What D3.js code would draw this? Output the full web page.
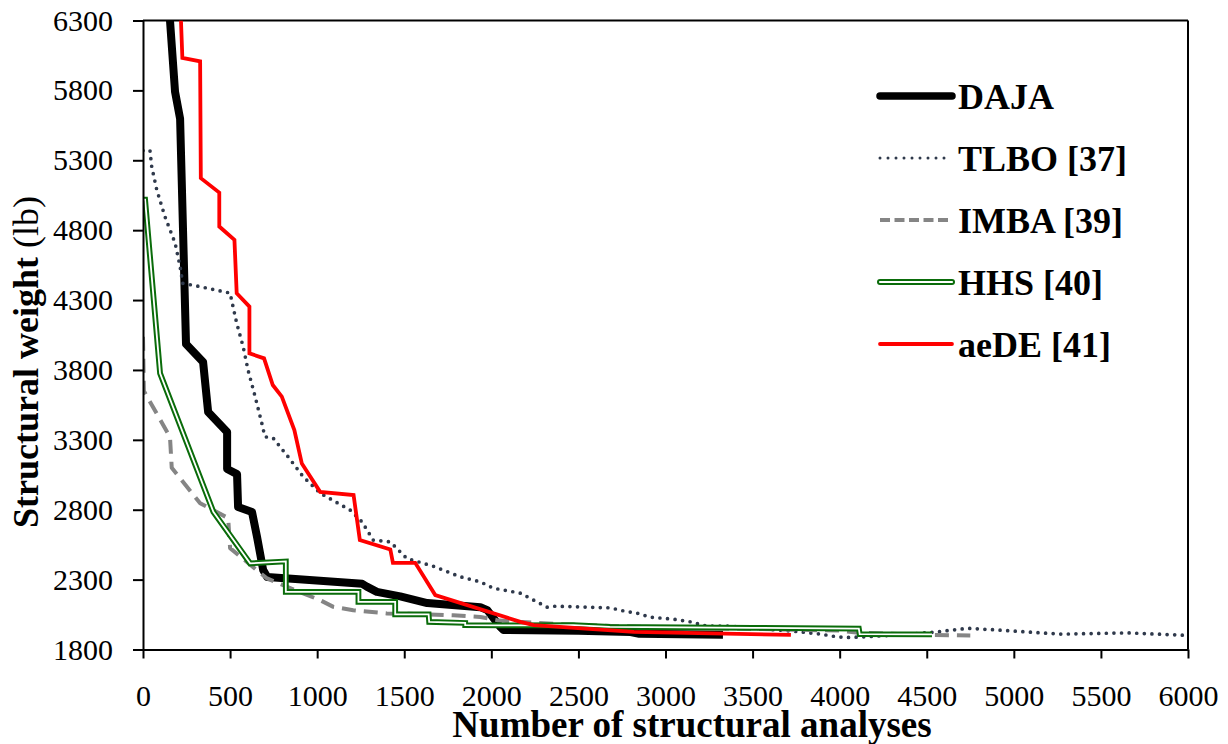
<!DOCTYPE html>
<html>
<head>
<meta charset="utf-8">
<script src="https://cdn.jsdelivr.net/npm/d3@7/dist/d3.min.js"></script>
<style>
  html, body { margin: 0; padding: 0; background: #fff; }
  svg { display: block; }
  text { font-family: "Liberation Serif", "Tinos", "Times New Roman", "Nimbus Roman", "DejaVu Serif", "Noto Serif", serif; fill: #000; }
</style>
</head>
<body>
<svg id="chart" width="1228" height="744"></svg>
<script>
// Convergence histories: [number of structural analyses, structural weight (lb)]
const dajaData = [
  [155,6300],[184,5790],[213,5597],[247,3985],[345,3857],[374,3499],[483,3356],[483,3091],
  [540,3055],[546,2819],[626,2783],[655,2604],[690,2368],[713,2318],[1259,2270],[1285,2250],
  [1343,2212],[1477,2180],[1632,2132],[1937,2103],[1977,2082],[2052,1960],[2070,1940],
  [2500,1935],[2800,1925],[2850,1912],[3330,1905]
];
const tlboData = [
  [0,5370],[40,5370],[50,5255],[79,5089],[126,4897],[184,4709],[213,4540],[228,4420],
  [328,4396],[500,4350],[517,4253],[538,4135],[575,3967],[603,3800],[644,3609],[682,3420],
  [700,3322],[747,3313],[833,3179],[920,3036],[1017,2919],[1190,2797],[1257,2714],[1322,2583],
  [1420,2570],[1515,2451],[1667,2396],[1822,2320],[1937,2284],[2011,2239],[2167,2203],
  [2262,2141],[2320,2103],[2368,2110],[2548,2103],[2684,2098],[2759,2076],[2837,2060],
  [2914,2031],[3046,2017],[3143,1998],[3240,1967],[3355,1967],[3470,1957],[3776,1926],
  [3891,1910],[3987,1890],[4063,1886],[4350,1905],[4561,1926],[4734,1952],[4925,1938],
  [5270,1910],[5653,1919],[5977,1902],[6000,1900]
];
const imbaData = [
  [0,4038],[5,3650],[155,3320],[165,3100],[328,2847],[489,2740],[500,2525],[653,2368],
  [709,2311],[845,2239],[1017,2153],[1093,2105],[1207,2081],[1400,2058],[1592,2053],
  [1782,2045],[1937,2033],[2033,2010],[2150,1998],[2500,1975],[3000,1958],[3500,1948],
  [4000,1935],[4110,1920],[4500,1905],[4750,1900]
];
const hhsData = [
  [0,5018],[12,5018],[98,3776],[404,2785],[615,2416],[820,2430],[820,2212],[1237,2212],
  [1237,2141],[1448,2141],[1448,2052],[1640,2052],[1643,1998],[1850,1990],[1850,1975],
  [2052,1972],[2470,1975],[2680,1962],[3500,1955],[4110,1950],[4115,1910],[4530,1908]
];
const aedeData = [
  [218,6300],[226,6032],[328,6008],[332,5172],[438,5069],[438,4826],[525,4731],[538,4349],
  [611,4253],[611,3919],[695,3883],[745,3692],[797,3609],[869,3370],[912,3130],[1017,2928],
  [1209,2905],[1245,2583],[1420,2516],[1435,2420],[1563,2420],[1678,2189],[2167,1998],
  [2243,1974],[2818,1926],[3720,1905]
];

const seriesNames = ["DAJA", "TLBO [37]", "IMBA [39]", "HHS [40]", "aeDE [41]"];
const xTicks = [0,500,1000,1500,2000,2500,3000,3500,4000,4500,5000,5500,6000];
const yTicks = [1800,2300,2800,3300,3800,4300,4800,5300,5800,6300];

const serif = "'Liberation Serif', 'Tinos', 'Times New Roman', 'Nimbus Roman', 'DejaVu Serif', 'Noto Serif', serif";

// Line styles per series (drawn in legend order, later series on top)
const styles = {
  "DAJA":      { layers: [{ stroke: "#000", width: 8, join: "round" }] },
  "TLBO [37]": { layers: [{ stroke: "#2f394b", width: 3.7, dash: "0 7.6", cap: "round", join: "round" }] },
  "IMBA [39]": { layers: [{ stroke: "#858585", width: 4, dash: "14 8", join: "round" }] },
  "HHS [40]":  { layers: [{ stroke: "#0a6c0a", width: 5.8, join: "miter" }, { stroke: "#fff", width: 1.8, join: "miter" }] },
  "aeDE [41]": { layers: [{ stroke: "#ff0000", width: 3.8, join: "miter" }] }
};
const seriesData = [dajaData, tlboData, imbaData, hhsData, aedeData];

const svg = d3.select("#chart");
const plotLeft = 143, plotRight = 1188, plotTop = 20.5, plotBottom = 649.5;

const x = d3.scaleLinear().domain([0, 6000]).range([plotLeft, plotRight]);
const y = d3.scaleLinear().domain([1800, 6300]).range([plotBottom, plotTop]);

svg.append("defs").append("clipPath").attr("id", "plotClip")
  .append("rect").attr("x", plotLeft).attr("y", plotTop)
  .attr("width", plotRight - plotLeft).attr("height", plotBottom - plotTop);

// Frame: top and right borders
svg.append("line").attr("x1", plotLeft).attr("x2", plotRight).attr("y1", plotTop).attr("y2", plotTop)
  .attr("stroke", "#000").attr("stroke-width", 2);
svg.append("line").attr("x1", plotRight).attr("x2", plotRight).attr("y1", plotTop).attr("y2", plotBottom)
  .attr("stroke", "#000").attr("stroke-width", 2);

// Series
const line = d3.line().x(d => x(d[0])).y(d => y(d[1]));
const plot = svg.append("g").attr("clip-path", "url(#plotClip)");
seriesNames.forEach((name, i) => {
  styles[name].layers.forEach(s => {
    plot.append("path")
      .datum(seriesData[i])
      .attr("d", line)
      .attr("fill", "none")
      .attr("stroke", s.stroke)
      .attr("stroke-width", s.width)
      .attr("stroke-linejoin", s.join || "round")
      .attr("stroke-miterlimit", 4)
      .attr("stroke-linecap", s.cap || "butt")
      .attr("stroke-dasharray", s.dash || null);
  });
});

// Axes
const xAxis = d3.axisBottom(x).tickValues(xTicks).tickSize(9).tickSizeOuter(0).tickFormat(d3.format("d"));
const gx = svg.append("g").attr("transform", `translate(0,${plotBottom})`).call(xAxis);
gx.attr("font-family", serif);
gx.selectAll("text").attr("y", 56.5).attr("dy", 0).style("font-size", "30px");

const yAxis = d3.axisLeft(y).tickValues(yTicks).tickSize(10).tickPadding(20).tickSizeOuter(0).tickFormat(d3.format("d"));
const gy = svg.append("g").attr("transform", `translate(${plotLeft},0)`).call(yAxis);
gy.attr("font-family", serif);
gy.selectAll("text").style("font-size", "30px");

[gx, gy].forEach(g => {
  g.select(".domain").attr("stroke", "#000").attr("stroke-width", 2);
  g.selectAll(".tick line").attr("stroke", "#000").attr("stroke-width", 2);
  g.selectAll("text").attr("fill", "#000").style("font-family", serif);
});

// Axis titles
svg.append("text")
  .attr("x", 692).attr("y", 737)
  .attr("text-anchor", "middle")
  .style("font-family", serif)
  .style("font-size", "37px").style("font-weight", "bold")
  .text("Number of structural analyses");

const yt = svg.append("text")
  .attr("transform", "translate(38,362) rotate(-90)")
  .attr("text-anchor", "middle")
  .style("font-family", serif)
  .style("font-size", "36px");
yt.append("tspan").style("font-weight", "bold").text("Structural weight ");
yt.append("tspan").style("font-weight", "normal").text("(lb)");

// Legend
const legend = svg.append("g");
const legY0 = 96, legStep = 62, legX1 = 880, legX2 = 952;
seriesNames.forEach((name, i) => {
  const cy = legY0 + i * legStep;
  styles[name].layers.forEach((s, j) => {
    legend.append("line")
      .attr("x1", legX1).attr("x2", legX2).attr("y1", cy).attr("y2", cy)
      .attr("stroke", s.stroke)
      .attr("stroke-width", name === "DAJA" ? 7.5 : (name === "HHS [40]" ? (j === 0 ? 6 : 2.2) : (name === "TLBO [37]" ? 3 : s.width)))
      .attr("stroke-linecap", (name === "IMBA [39]") ? "butt" : "round")
      .attr("stroke-dasharray", s.dash ? (name === "IMBA [39]" ? "10 4.5" : "0 8") : null);
  });
  legend.append("text")
    .attr("x", 958).attr("y", cy + 13)
    .style("font-family", serif)
    .style("font-size", "36px").style("font-weight", "bold")
    .text(name);
});
</script>
</body>
</html>
